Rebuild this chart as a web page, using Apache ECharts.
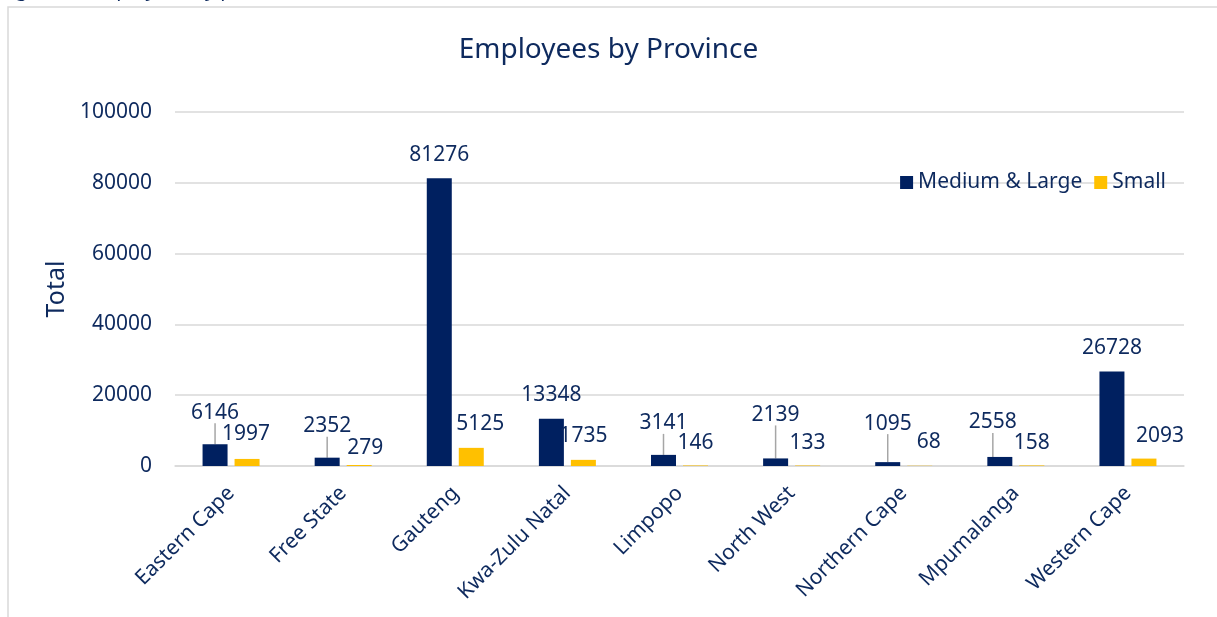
<!DOCTYPE html>
<html>
<head>
<meta charset="utf-8">
<script src="https://cdn.jsdelivr.net/npm/echarts@6/dist/echarts.min.js"></script>
<style>html,body{margin:0;padding:0;background:#fff;}#c{width:1217px;height:617px;}</style>
</head>
<body>
<div id="c"></div>
<script>
const provinces = ['Eastern Cape','Free State','Gauteng','Kwa-Zulu Natal','Limpopo','North West','Northern Cape','Mpumalanga','Western Cape'];
const mediumLarge = [6146, 2352, 81276, 13348, 3141, 2139, 1095, 2558, 26728];
const small = [1997, 279, 5125, 1735, 146, 133, 68, 158, 2093];
const yTicks = [0, 20000, 40000, 60000, 80000, 100000];

// label nudges (Excel-style manual label placement)
const mlDx = [0, 0, 0, 0, 0, 0, 0, -7, 0];
const mlDy = [-16, -16, -8, -8, -16, -28, -23, -19, -8];
const mlLeader = [true, true, false, false, true, true, true, true, false];
const smDx = [-1, 6, 9, 0, 0, 0, 9, 0, 16];
const smDy = [-9, -1, -8, -8, -7, -7, -8, -7, -7];

const navy = '#002060';
const txt = '#0E2A5E';
const font = 'Noto Sans';

const chart = echarts.init(document.getElementById('c'));
chart.setOption({
  backgroundColor: '#fff',
  textStyle: { fontFamily: font },
  title: {
    text: 'Employees by Province',
    left: 'center', top: 31,
    textStyle: { color: txt, fontSize: 28, fontWeight: 'normal', fontFamily: font }
  },
  legend: {
    right: 46, top: 167,
    icon: 'rect', itemWidth: 13, itemHeight: 13, itemGap: 12,
    textStyle: { color: txt, fontSize: 21, fontFamily: font },
    data: ['Medium & Large', 'Small']
  },
  grid: { left: 175, right: 33, top: 112, bottom: 151, containLabel: false },
  xAxis: {
    type: 'category', data: provinces,
    axisLine: { lineStyle: { color: '#D9D9D9', width: 1.5 } },
    axisTick: { show: false },
    axisLabel: { rotate: 45, color: txt, fontSize: 21, margin: 24, interval: 0, fontFamily: font }
  },
  yAxis: {
    type: 'value', min: yTicks[0], max: yTicks[yTicks.length - 1], interval: 20000,
    name: 'Total', nameLocation: 'middle', nameGap: 103, nameRotate: 90,
    nameTextStyle: { color: txt, fontSize: 25, fontFamily: font },
    axisLine: { show: false }, axisTick: { show: false },
    axisLabel: { color: txt, fontSize: 21, margin: 23, fontFamily: font, formatter: v => String(v) },
    splitLine: { lineStyle: { color: '#D9D9D9', width: 1.5 } }
  },
  series: [
    {
      name: 'Medium & Large', type: 'bar',
      barWidth: 25, barGap: '28%',
      itemStyle: { color: navy },
      data: mediumLarge.map((v, i) => ({ value: v, labelLine: { show: mlLeader[i] } })),
      label: { show: true, position: 'top', distance: 5, color: txt, fontSize: 21, fontFamily: font },
      labelLine: { show: true, lineStyle: { color: '#A6A6A6', width: 1.5 } },
      labelLayout: p => ({ dx: mlDx[p.dataIndex], dy: mlDy[p.dataIndex] })
    },
    {
      name: 'Small', type: 'bar',
      barWidth: 25,
      itemStyle: { color: '#FFC000' },
      data: small,
      label: { show: true, position: 'top', distance: 5, color: txt, fontSize: 21, fontFamily: font },
      labelLayout: p => ({ dx: smDx[p.dataIndex], dy: smDy[p.dataIndex] })
    }
  ],
  graphic: [
    { type: 'rect', silent: true, shape: { x: 8, y: 7, width: 1240, height: 640 },
      style: { fill: 'none', stroke: '#D9D9D9', lineWidth: 1.5 } },
    { type: 'text', left: 0, top: -20, silent: true,
      style: { text: 'Figure 3: Employees by province', fill: txt, fontSize: 20, fontFamily: font } }
  ]
});
</script>
</body>
</html>
